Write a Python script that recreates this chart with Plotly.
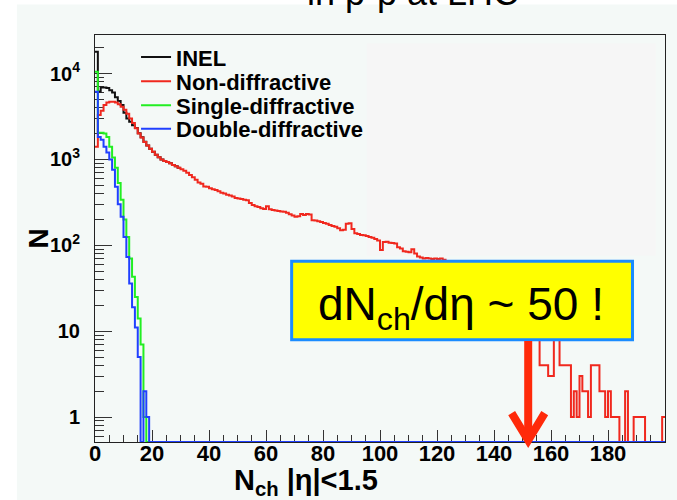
import numpy as np
import plotly.graph_objects as go

# ---------------- data (bin contents, 1-unit bins starting at Nch = 0) ----------------
inel = [17900, 6200, 6900, 6900, 6800, 6400, 6000, 5300, 4800, 4300,
        3500, 3000, 2750, 2500, 2330, 2020, 1815, 1605, 1450, 1330,
        1230, 1130, 1060, 1000, 960, 930, 900, 860, 830, 800]

non_diffractive = [
    1400, 3300, 3700, 4300, 4600, 4700, 4700, 4600, 4400, 4100,
    3800, 3400, 3000, 2650, 2300, 2000, 1800, 1600, 1450, 1330,
    1230, 1130, 1060, 1000, 960, 930, 900, 860, 830, 800,
    770, 740, 700, 660, 620, 580, 540, 520, 485, 480,
    462, 450, 440, 425, 410, 400, 388, 380, 370, 355,
    350, 345, 340, 335, 310, 295, 285, 280, 270, 265,
    285, 262, 258, 255, 250, 248, 245, 240, 230, 222,
    215, 218, 232, 225, 232, 228, 196, 195, 190, 187,
    182, 178, 172, 168, 164, 158, 150, 152, 178, 180,
    155, 138, 135, 132, 131, 128, 125, 122, 118, 114,
    88, 109, 110, 107, 106, 105, 95, 92, 85, 84,
    83, 90, 80, 74, 72, 70, 71, 70, 69, 70,
    69, 70, 68, 64, 60, 58, 55, 51, 48, 46,
    43, 40, 38, 35, 33, 31, 29, 27, 25, 23,
    22, 20, 19, 17, 16, 15, 14, 13, 12, 12,
    11, 10, 10, 9, 9, 9, 4, 4, 4, 3,
    3, 10, 9, 4, 4, 4, 4, 1, 2, 1,
    3, 2, 2, 1, 4, 4, 4, 2, 2, 1,
    2, 1, 1, 1, 0, 0, 2, 0, 0, 1,
    1, 1, 1, 0, 0, 0, 0, 0, 0, 1,
]

single_diffractive = [10500, 2050, 2050, 2000, 1830, 1400, 1050, 800, 530, 340,
                      200, 125, 70, 43, 25, 14, 7, 1] + [0] * 182

double_diffractive = [6150, 1830, 1700, 1400, 1200, 1000, 760, 480, 300, 215,
                      125, 73, 36, 19, 11, 5, 0, 2, 1] + [0] * 181

x_tick_vals = [0, 20, 40, 60, 80, 100, 120, 140, 160, 180]
y_tick_vals = [1, 10, 100, 1000, 10000]
y_tick_text = ["1", "10", "10<sup>2</sup>", "10<sup>3</sup>", "10<sup>4</sup>"]

series_names = ["INEL", "Non-diffractive", "Single-diffractive", "Double-diffractive"]

# ---------------- style ----------------
Y_LOG_RANGE = [-0.291, 4.449]
Y_FLOOR = 10 ** Y_LOG_RANGE[0]
X_RANGE = [0, 200]
COLORS = ["#111111", "#f0281e", "#22ee22", "#2040ff"]
FONT = "Liberation Sans, Arial, Helvetica, sans-serif"
BG = "#f4f9f7"
LEGEND_IDS = ["legend", "legend2", "legend3", "legend4"]
LEGEND_ROWS = [0.9455, 0.8856, 0.8266, 0.7694]


def step(vals):
    v = np.asarray(vals, dtype=float)
    v = np.where(v > 0, v, Y_FLOOR)
    x = np.arange(len(v) + 1)
    y = np.append(v, v[-1])
    return x, y


fig = go.Figure()
for name, vals, col, lg in zip(series_names,
                               [inel, non_diffractive, single_diffractive, double_diffractive],
                               COLORS, LEGEND_IDS):
    xs, ys = step(vals)
    fig.add_trace(go.Scatter(x=xs, y=ys, mode="lines", name=name, legend=lg,
                             line=dict(color=col, width=2, shape="hv")))

minor_y = [m * 10 ** d for d in range(-1, 5) for m in range(2, 10)]
minor_x = [v for v in range(5, 200, 5) if v % 20 != 0]

legend_style = dict(x=0.072, xanchor="left", yanchor="middle",
                    bgcolor="rgba(0,0,0,0)", borderwidth=0,
                    font=dict(size=22, family=FONT, weight="bold", color="black"),
                    itemwidth=30)
legends = {lg: dict(legend_style, y=yy) for lg, yy in zip(LEGEND_IDS, LEGEND_ROWS)}

fig.update_layout(
    width=677, height=500,
    margin=dict(l=95, r=12, t=35, b=58),
    paper_bgcolor="white",
    plot_bgcolor="rgba(0,0,0,0)",
    font=dict(family=FONT, color="black"),
    showlegend=True,
    **legends,
    xaxis=dict(range=X_RANGE, tickmode="array", tickvals=x_tick_vals,
               ticks="inside", ticklen=12, tickcolor="#333", tickwidth=1,
               showgrid=False, zeroline=False,
               showline=True, linecolor="#222", linewidth=1, mirror=True,
               layer="below traces",
               tickfont=dict(size=22, family=FONT, weight="bold"),
               ticklabelstandoff=-8,
               minor=dict(tickvals=minor_x, ticks="inside", ticklen=7, tickcolor="#333")),
    yaxis=dict(type="log", range=Y_LOG_RANGE, tickmode="array",
               tickvals=y_tick_vals, ticktext=y_tick_text,
               ticks="inside", ticklen=17, tickcolor="#333", tickwidth=1,
               showgrid=False, zeroline=False,
               showline=True, linecolor="#222", linewidth=1, mirror=True,
               layer="below traces",
               tickfont=dict(size=20, family=FONT, weight="bold"),
               ticklabelstandoff=10,
               minor=dict(tickvals=minor_y, ticks="inside", ticklen=9, tickcolor="#333")),
    shapes=[
        dict(type="rect", xref="paper", yref="paper", x0=-0.137, x1=1.03, y0=-0.2, y1=1.075,
             fillcolor=BG, line=dict(width=0), layer="below"),
        dict(type="rect", xref="paper", yref="paper", x0=0.477, x1=0.984, y0=0.4585, y1=0.979,
             fillcolor="#f6f6f6", line=dict(width=0), layer="below"),
        # callout box
        dict(type="rect", xref="paper", yref="paper", x0=0.345, x1=0.943, y0=0.2515, y1=0.4438,
             fillcolor="#ffff00", line=dict(color="#1a8cff", width=3)),
        # arrow stem and head
        dict(type="line", xref="x", yref="paper", x0=152, x1=152, y0=0.248, y1=0.01,
             line=dict(color="#ff2a0a", width=8)),
        dict(type="path", xref="x", yref="paper",
             path="M 146.2,0.071 L 152,0.004 L 157.8,0.071",
             line=dict(color="#ff2a0a", width=8)),
    ],
    annotations=[
        dict(text="in p-p at LHC", xref="paper", yref="paper", x=0.558, y=1.104,
             xanchor="center", yanchor="middle", showarrow=False,
             font=dict(size=36, family=FONT, color="black")),
        dict(text="dN<sub>ch</sub>/dη ~ 50 !", xref="paper", yref="paper",
             x=0.642, y=0.331, xanchor="center", yanchor="middle", showarrow=False,
             font=dict(size=46, family=FONT, color="black")),
        dict(text="N<sub>ch</sub> |η|<1.5", xref="paper", yref="paper",
             x=0.24, y=-0.098, xanchor="left", yanchor="middle", showarrow=False,
             font=dict(size=29, family=FONT, weight="bold", color="black")),
        dict(text="N", xref="paper", yref="paper", x=-0.1, y=0.5,
             xanchor="center", yanchor="middle", showarrow=False, textangle=-90,
             font=dict(size=28, family=FONT, weight="bold", color="black")),
    ],
)

fig.write_html("out.html", config={"displayModeBar": False},
               post_script="document.body.style.margin='0px';")
